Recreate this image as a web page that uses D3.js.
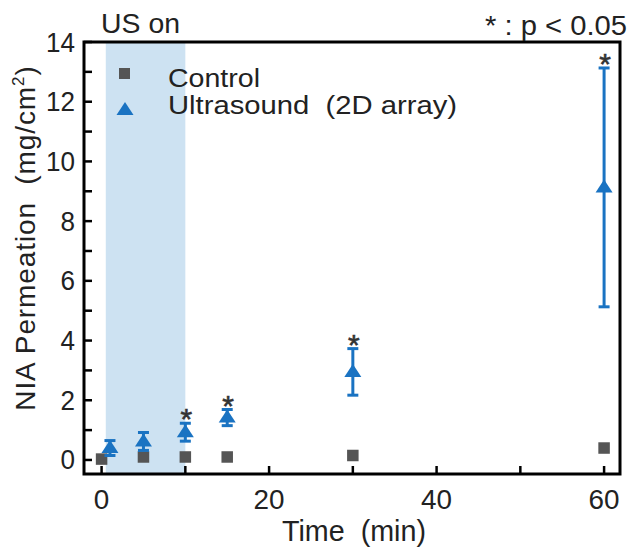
<!DOCTYPE html>
<html><head><meta charset="utf-8">
<script src="https://cdn.jsdelivr.net/npm/d3@7"></script>
<style>body{margin:0;background:#fff;} text{font-family:"Liberation Sans",Arial,sans-serif;}</style>
</head><body>
<svg id="c" width="631" height="550"></svg>
<script>
const controlTime = [0, 5, 10, 15, 30, 60];
const controlVal = [0.03, 0.1, 0.1, 0.1, 0.15, 0.4];
const usTime = [1, 5, 10, 15, 30, 60];
const usVal = [0.4, 0.62, 0.93, 1.42, 2.95, 9.13];
const usErr = [0.25, 0.3, 0.3, 0.27, 0.78, 4.0];
const usSig = [false, false, true, true, true, true];
const usOn = [0.5, 10];
const xTicks = [0, 10, 20, 30, 40, 50, 60];
const xLabels = [0, 20, 40, 60];
const yTicks = d3.range(0, 15, 1);
const yLabels = [0, 2, 4, 6, 8, 10, 12, 14];

const svg = d3.select("#c");
const L = 84, R = 620, T = 42, B = 474;
const x = d3.scaleLinear().domain([-2.1, 61.9]).range([L, R]);
const y = d3.scaleLinear().domain([-0.47, 14]).range([B, T]);
const blue = "#1a73c2", gray = "#555555", ink = "#222";
const triPath = "M0,-8L8.5,5L-8.5,5Z";

svg.append("rect").attr("x", x(usOn[0])).attr("y", T).attr("width", x(usOn[1]) - x(usOn[0])).attr("height", B - T).attr("fill", "#cde2f2");

const g = svg.append("g");
g.selectAll(".xt").data(xTicks).enter().append("line")
  .attr("x1", d => x(d)).attr("x2", d => x(d)).attr("y1", B).attr("y2", B - 8)
  .attr("stroke", "#000").attr("stroke-width", 2.5);
g.selectAll(".yt").data(yTicks).enter().append("line")
  .attr("y1", d => y(d)).attr("y2", d => y(d)).attr("x1", L).attr("x2", L + 8)
  .attr("stroke", "#000").attr("stroke-width", 2.5);
g.selectAll(".xl").data(xLabels).enter().append("text")
  .attr("x", d => x(d)).attr("y", B + 35).attr("text-anchor", "middle")
  .attr("font-size", 27).attr("fill", ink).text(d => d)
  .attr("textLength", d => String(d).length * 15.5).attr("lengthAdjust", "spacingAndGlyphs");
g.selectAll(".yl").data(yLabels).enter().append("text")
  .attr("x", L - 9).attr("y", d => y(d) + 9.5).attr("text-anchor", "end")
  .attr("font-size", 27).attr("fill", ink).text(d => d)
  .attr("textLength", d => String(d).length * 14.5).attr("lengthAdjust", "spacingAndGlyphs");

svg.append("rect").attr("x", L).attr("y", T).attr("width", R - L).attr("height", B - T)
  .attr("fill", "none").attr("stroke", "#000").attr("stroke-width", 3);

svg.selectAll(".cs").data(controlTime).enter().append("rect")
  .attr("x", (d) => x(d) - 5.75).attr("y", (d, i) => y(controlVal[i]) - 5.75)
  .attr("width", 11.5).attr("height", 11.5).attr("fill", gray);

const eb = svg.append("g").attr("stroke", blue).attr("stroke-width", 3);
usTime.forEach((t, i) => {
  const cx = x(t), y1 = y(usVal[i] + usErr[i]), y2 = y(usVal[i] - usErr[i]);
  eb.append("line").attr("x1", cx).attr("x2", cx).attr("y1", y1).attr("y2", y2);
  eb.append("line").attr("x1", cx - 5.5).attr("x2", cx + 5.5).attr("y1", y1).attr("y2", y1);
  eb.append("line").attr("x1", cx - 5.5).attr("x2", cx + 5.5).attr("y1", y2).attr("y2", y2);
});
svg.selectAll(".ut").data(usTime).enter().append("path")
  .attr("d", triPath).attr("transform", (d, i) => `translate(${x(d)},${y(usVal[i])})`)
  .attr("fill", blue);

svg.selectAll(".st").data(usTime.filter((d, i) => usSig[i])).enter().append("text")
  .attr("x", d => x(d) + 1).attr("y", d => { const i = usTime.indexOf(d); return y(usVal[i] + usErr[i]) + 6; })
  .attr("text-anchor", "middle").attr("font-size", 30).attr("fill", "#333").attr("stroke", "#333").attr("stroke-width", 0.6).text("*");

svg.append("rect").attr("x", 119).attr("y", 68).attr("width", 11).attr("height", 11).attr("fill", gray);
svg.append("path").attr("d", triPath).attr("transform", "translate(125,110)").attr("fill", blue);
svg.append("text").attr("x", 168).attr("y", 87).attr("font-size", 25).attr("fill", ink).text("Control")
  .attr("textLength", 92).attr("lengthAdjust", "spacingAndGlyphs");
svg.append("text").attr("x", 168).attr("y", 114).attr("font-size", 25).attr("fill", ink).attr("xml:space", "preserve").text("Ultrasound  (2D array)")
  .attr("textLength", 289).attr("lengthAdjust", "spacingAndGlyphs");

svg.append("text").attr("x", 101).attr("y", 33).attr("font-size", 28).attr("fill", ink).text("US on")
  .attr("textLength", 79).attr("lengthAdjust", "spacingAndGlyphs");
svg.append("text").attr("x", 485).attr("y", 35).attr("font-size", 27).attr("fill", ink).attr("xml:space", "preserve").text("* : p < 0.05")
  .attr("textLength", 142).attr("lengthAdjust", "spacingAndGlyphs");

svg.append("text").attr("x", 282).attr("y", 541).attr("font-size", 29).attr("fill", ink).attr("xml:space", "preserve").text("Time  (min)")
  .attr("textLength", 144).attr("lengthAdjust", "spacingAndGlyphs");
const yt = svg.append("text").attr("transform", "translate(35,238) rotate(-90)").attr("text-anchor", "middle").attr("font-size", 28).attr("fill", ink).attr("letter-spacing", 0.9).attr("xml:space", "preserve");
yt.append("tspan").text("NIA Permeation  (mg/cm");
yt.append("tspan").attr("font-size", 17).attr("dy", -11).text("2");
yt.append("tspan").attr("dy", 11).text(")");
</script>
</body></html>
